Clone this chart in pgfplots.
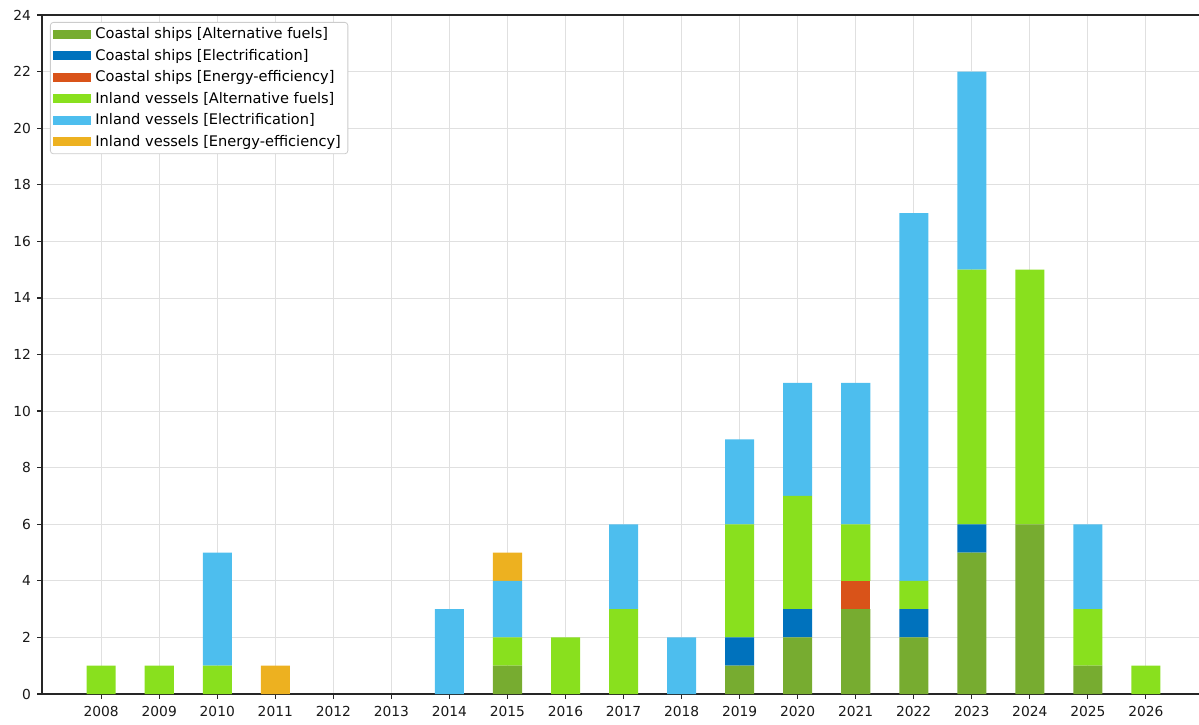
\documentclass[border=0pt]{standalone}
\usepackage{pgfplots}
\usepackage{pgfplotstable}
\pgfplotsset{compat=1.18}
\usepackage{fontspec}
\setmainfont{DejaVu Sans}
\definecolor{cAlt}{HTML}{77AC30}
\definecolor{cEl}{HTML}{0072BD}
\definecolor{cEE}{HTML}{D95319}
\definecolor{iAlt}{HTML}{89E01E}
\definecolor{iEl}{HTML}{4DBEEE}
\definecolor{iEE}{HTML}{EDB120}
\definecolor{spine}{HTML}{262626}
% year, coastal alt/elec/ee, inland alt/elec/ee
\pgfplotstableread{
year cA cE cX iA iE iX
2008 0 0 0 1 0 0
2009 0 0 0 1 0 0
2010 0 0 0 1 4 0
2011 0 0 0 0 0 1
2012 0 0 0 0 0 0
2013 0 0 0 0 0 0
2014 0 0 0 0 3 0
2015 1 0 0 1 2 1
2016 0 0 0 2 0 0
2017 0 0 0 3 3 0
2018 0 0 0 0 2 0
2019 1 1 0 4 3 0
2020 2 1 0 4 4 0
2021 3 0 1 2 5 0
2022 2 1 0 1 13 0
2023 5 1 0 9 7 0
2024 6 0 0 9 0 0
2025 1 0 0 2 3 0
2026 0 0 0 1 0 0
}\data
\begin{document}
\fontsize{6.9}{8.3}\selectfont
\begin{tikzpicture}
\begin{axis}[
    name=main,
    scale only axis,
    width=581pt, height=339.5pt,
    xmin=2006.98, xmax=2027, ymin=0, ymax=24,
    ybar stacked, bar width=0.5,
    xtick={2008,...,2026}, ytick={0,2,...,24},
    grid=major,
    major grid style={draw=black!12, line width=0.4pt},
    axis line style={draw=spine, line width=0.7pt},
    tick style={draw=spine, line width=0.6pt},
    tick align=outside, major tick length=2.5pt,
    xtick pos=bottom, ytick pos=left,
    /pgf/number format/1000 sep={},
    /pgf/number format/assume math mode=true,
    ticklabel style={font=\fontsize{6.9}{8.3}\selectfont, text=black!90},
    xticklabel style={yshift=-1pt},
    yticklabel style={xshift=-0.5pt},
    legend cell align=left,
    legend style={at={(4pt,336pt)}, anchor=north west,
        draw=black!20, fill=white, rounded corners=1.5pt,
        font=\fontsize{7.3}{8.5}\selectfont,
        row sep=0.2pt, inner xsep=1.5pt, inner ysep=0.6pt},
    legend image code/.code={\fill[#1, sharp corners] (0pt,-2.2pt) rectangle (19pt,2.3pt);},
]
\addplot+[draw=none, fill=cAlt] table[x=year, y=cA] {\data};
\addplot+[draw=none, fill=cEl] table[x=year, y=cE] {\data};
\addplot+[draw=none, fill=cEE] table[x=year, y=cX] {\data};
\addplot+[draw=none, fill=iAlt] table[x=year, y=iA] {\data};
\addplot+[draw=none, fill=iEl] table[x=year, y=iE] {\data};
\addplot+[draw=none, fill=iEE] table[x=year, y=iX] {\data};
\legend{Coastal ships [Alternative fuels], Coastal ships [Electrification], Coastal ships [Energy-efficiency], Inland vessels [Alternative fuels], Inland vessels [Electrification], Inland vessels [Energy-efficiency]}
\end{axis}
\pgfresetboundingbox
\path (main.south west) ++(-21pt,-15pt) coordinate (bl);
\path (main.north west) ++(578.5pt,7.5pt) coordinate (tr);
\useasboundingbox (bl) rectangle (tr);
\end{tikzpicture}
\end{document}
